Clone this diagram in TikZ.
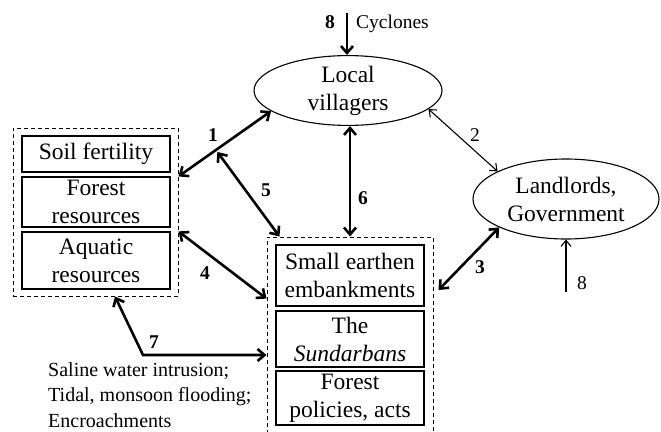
\documentclass[tikz,border=0pt]{standalone}
\usepackage{fontspec}
\setmainfont{Liberation Serif}
\usetikzlibrary{arrows.meta,shapes.geometric,calc}
\begin{document}
\begin{tikzpicture}[x=1pt,y=-1pt,
  txt/.style={font=\fontsize{23.5}{28}\selectfont},
  box/.style={txt,draw,line width=1.2pt,rectangle,inner sep=0pt,minimum width=148pt,align=center},
  oval/.style={txt,draw,line width=1.1pt,ellipse,inner sep=0pt,align=center},
  group/.style={draw,line width=1pt,dash pattern=on 4pt off 3pt,rectangle,inner sep=0pt},
  bigarr/.style={line width=2.6pt,{Straight Barb[length=7pt,width=12pt]}-{Straight Barb[length=7pt,width=12pt]}},
  bigone/.style={line width=2.6pt,-{Straight Barb[length=7pt,width=12pt]}},
  smallarr/.style={line width=1.1pt,{Straight Barb[length=6pt,width=10pt]}-{Straight Barb[length=6pt,width=10pt]}},
  smallone/.style={line width=1.1pt,-{Straight Barb[length=6pt,width=10pt]}},
  num/.style={font=\fontsize{19.5}{22}\selectfont\bfseries,anchor=base,inner sep=0pt},
  numr/.style={font=\fontsize{19.5}{22}\selectfont,anchor=base,inner sep=0pt},
  lab/.style={font=\fontsize{19.5}{22}\selectfont,inner sep=0pt}
]
\clip (0,0) rectangle (661,431);

% groups
\node[group,minimum width=165pt,minimum height=168pt] (L) at (95.5,212) {};
\node[group,minimum width=166pt,minimum height=203pt] (R) at (350,338.5) {};

% left boxes
\node[box,minimum height=36pt] (soil) at (96,154) {Soil fertility};
\node[box,minimum height=50pt] (forest) at (96,202) {Forest\\resources};
\node[box,minimum height=57pt] (aqua) at (96,260.5) {Aquatic\\resources};

% right boxes
\node[box,minimum height=61pt] (small) at (350,275.5) {Small earthen\\embankments};
\node[box,minimum height=56pt] (sund) at (350,339) {The\\\textit{Sundarbans}};
\node[box,minimum height=54pt] (pol) at (350,398) {Forest\\policies, acts};

% ellipses
\node[oval,minimum width=188pt,minimum height=67pt] (lv) at (348,90.5) {Local\\villagers};
\node[oval,minimum width=186pt,minimum height=80pt] (ll) at (566,199) {Landlords,\\Government};

% cyclones
\coordinate (cyc) at (347,13);
\draw[bigone] (cyc) -- (cyc |- lv.north);
\node[num] (n8a) at (330,28.6) {8};
\node[lab,anchor=base west] (cy) at (356,28) {Cyclones};

% arrow 1
\coordinate (a1s) at (L.east |- forest.north);
\coordinate (a1e) at (lv.195);
\draw[bigarr] (a1s) -- (a1e);
\node[num] (n1) at (213,141.6) {1};

% arrow 5
\draw[bigarr] ($(a1s)!0.42!(a1e)+(0,3)$) -- ([xshift=13pt]R.north west);
\node[num] (n5) at (266,196.6) {5};

% arrow 6
\draw[bigarr] (R.north |- lv.south) -- (R.north);
\node[num] (n6) at (363,204.6) {6};

% arrow 2
\draw[smallarr] (lv.-13) -- (ll.158);
\node[numr] (n2) at (475,141.6) {2};

% arrow 3
\draw[bigarr] ($(R.east)+(5,-48.5)$) -- (ll.203);
\node[num] (n3) at (480,273.6) {3};

% arrow 4
\draw[bigarr] (L.east |- aqua.north) -- ($(R.west |- small.south)+(0,-8)$);
\node[num] (n4) at (205,279.6) {4};

% arrow 7
\coordinate (c7) at (143,355);
\draw[bigarr] ([xshift=19.5pt]L.south) -- (c7) -- (R.west |- c7);
\node[num] (n7) at (154,348.6) {7};

% landlords 8
\coordinate (l8) at (566,292);
\draw[smallone] (l8) -- (l8 |- ll.south);
\node[numr] (n8b) at (582,289.6) {8};

% saline text
\node[anchor=north west,align=left,inner sep=0pt,font=\fontsize{20}{25.5}\selectfont] (sal) at (48,362)
  {Saline water intrusion;\\Tidal, monsoon flooding;\\Encroachments};
\end{tikzpicture}
\end{document}
